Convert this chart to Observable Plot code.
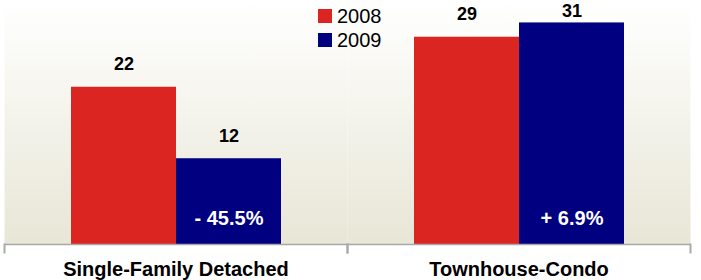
<!DOCTYPE html>
<html>
<head>
<meta charset="utf-8">
<script src="https://cdn.jsdelivr.net/npm/d3@7"></script>
<script src="https://cdn.jsdelivr.net/npm/@observablehq/plot@0.6"></script>
<style>
  html, body { margin: 0; padding: 0; background: white; }
  #wrap { position: relative; width: 701px; height: 280px; font-family: "Liberation Sans", Arial, sans-serif; }
  #legend { position: absolute; left: 318px; top: 4px; font-size: 20px; line-height: 24px; color: #000; }
  #legend .row { display: flex; align-items: center; height: 24px; }
  #legend .sw { width: 14px; height: 14px; margin-right: 5px; }
</style>
</head>
<body>
<div id="wrap"><div id="legend"></div></div>
<script>
const categories = ["Single-Family Detached", "Townhouse-Condo"];
const years = ["2008", "2009"];
const values2008 = [22, 29];
const values2009 = [12, 31];
const changeLabels = ["- 45.5%", "+ 6.9%"];
const yearColors = ["#da2520", "#000080"];

const rows = [];
categories.forEach((c, i) => {
  rows.push({category: c, year: years[0], value: values2008[i], change: null});
  rows.push({category: c, year: years[1], value: values2009[i], change: changeLabels[i]});
});

const W = 701, H = 280, mTop = 1, mBottom = 36;
const plotH = H - mTop - mBottom;

const svg = Plot.plot({
  width: W,
  height: H,
  marginTop: mTop,
  marginBottom: mBottom,
  marginLeft: 4,
  marginRight: 11,
  style: {fontFamily: "Liberation Sans, Arial, sans-serif", fontSize: "20px", fontWeight: "bold", color: "#000", background: "white"},
  fx: {domain: categories, padding: 0, label: null, tickSize: 0, tickPadding: 17},
  x: {domain: years, paddingInner: 0, paddingOuter: 0.618, axis: null},
  y: {domain: [0, 34], axis: null},
  color: {domain: years, range: yearColors},
  marks: [
    Plot.frame({fill: "url(#bgGrad)", stroke: "none"}),
    Plot.barY(rows, {fx: "category", x: "year", y: "value", fill: "year"}),
    Plot.ruleY([0], {stroke: "#a8a8a8", strokeWidth: 1.5}),
    Plot.frame({anchor: "left", stroke: "#aaaaaa", strokeWidth: 2, insetTop: plotH, insetBottom: -8}),
    Plot.frame({anchor: "right", stroke: "#aaaaaa", strokeWidth: 2, insetTop: plotH, insetBottom: -8}),
    Plot.text(rows, {fx: "category", x: "year", y: "value", text: d => String(d.value), dy: -23, fontSize: 18, fontWeight: "bold", fill: "#000", className: "value-label"}),
    Plot.text(rows.filter(d => d.change), {fx: "category", x: "year", frameAnchor: "bottom", text: "change", dy: -20, fontSize: 20, fontWeight: "bold", fill: "white"})
  ]
});

const defs = d3.select(svg).insert("defs", ":first-child");
const grad = defs.append("linearGradient").attr("id", "bgGrad").attr("x1", 0).attr("y1", 0).attr("x2", 0).attr("y2", 1);
grad.append("stop").attr("offset", "0%").attr("stop-color", "#ffffff");
grad.append("stop").attr("offset", "100%").attr("stop-color", "#e8e6d6");

document.getElementById("wrap").insertBefore(svg, document.getElementById("legend"));

// keep value labels inside the picture: nudge any that would be cut at the top edge
const svgTop = svg.getBoundingClientRect().top;
svg.querySelectorAll(".value-label text").forEach(el => {
  const top = el.getBoundingClientRect().top - svgTop;
  if (top < 1) {
    const shift = 1 - top;
    const t = el.getAttribute("transform") || "";
    el.setAttribute("transform", (t + ` translate(0,${shift})`).trim());
  }
});

const legend = d3.select("#legend");
years.forEach((y, i) => {
  const row = legend.append("div").attr("class", "row");
  row.append("div").attr("class", "sw").style("background", yearColors[i]);
  row.append("span").text(y);
});
</script>
</body>
</html>
